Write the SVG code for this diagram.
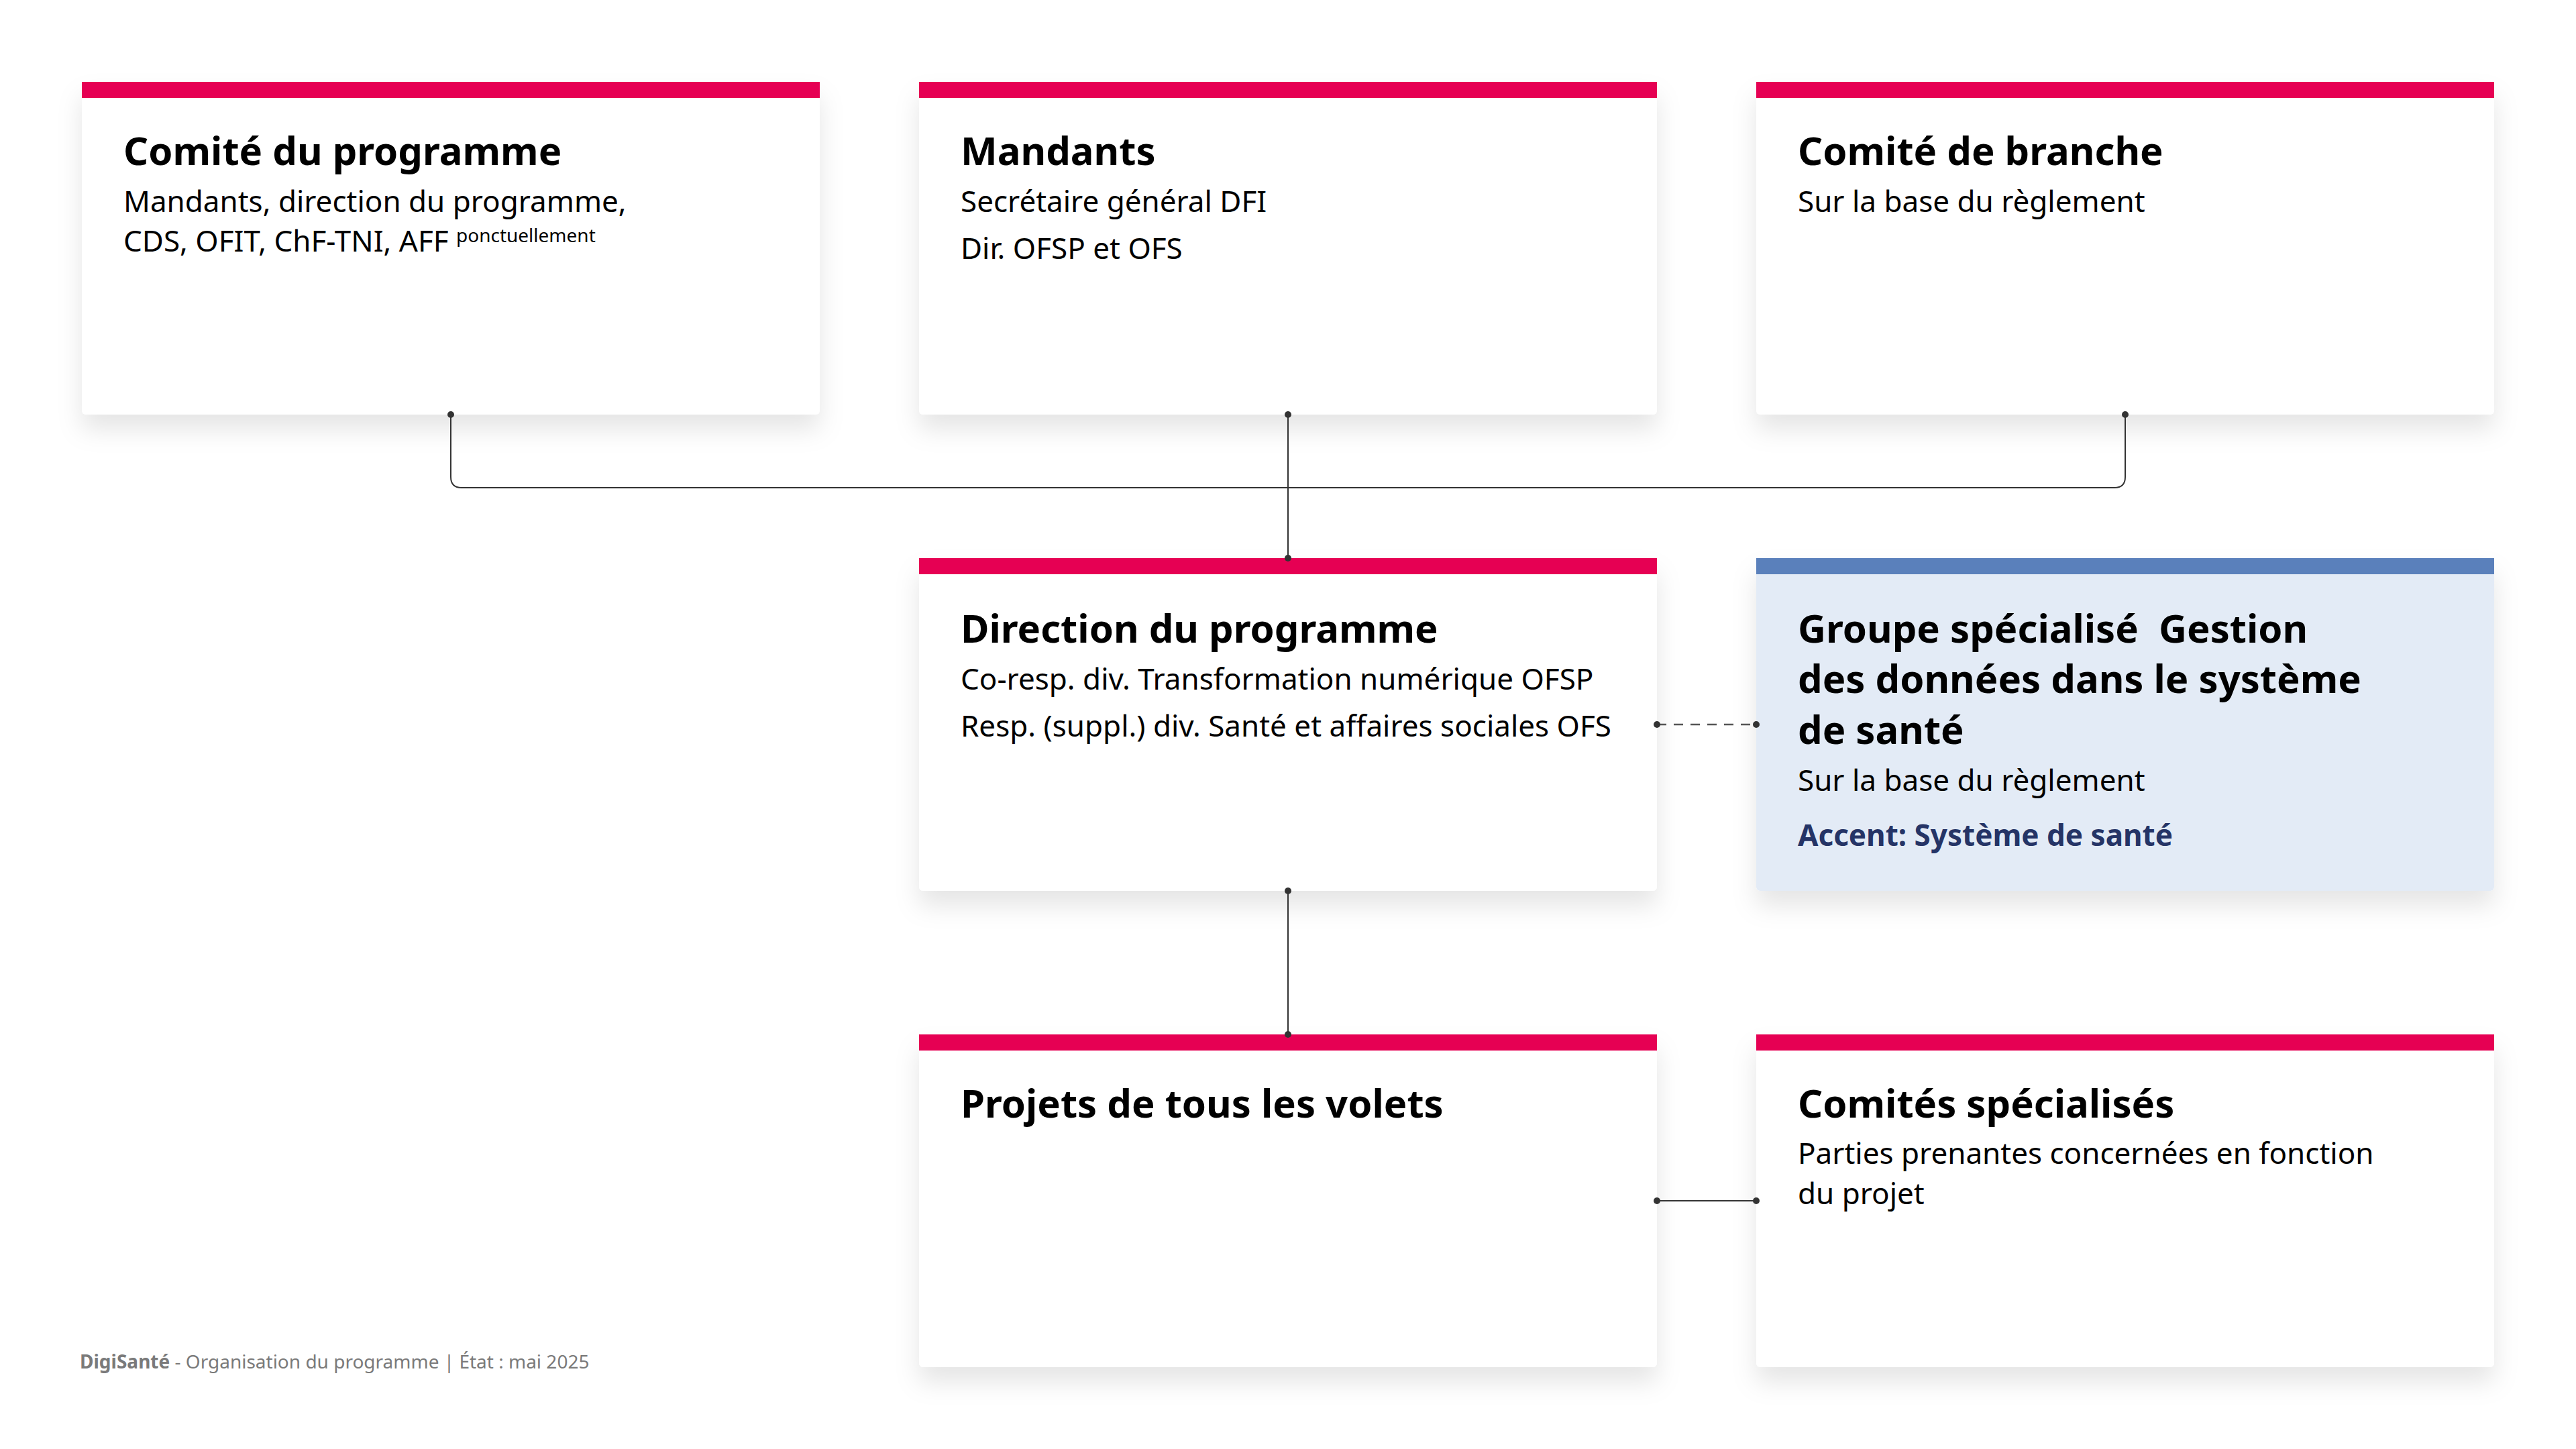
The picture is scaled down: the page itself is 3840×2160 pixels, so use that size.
<svg xmlns="http://www.w3.org/2000/svg" width="3840" height="2160" viewBox="0 0 3840 2160">
<defs>
<filter id="sh" x="-10%" y="-10%" width="120%" height="130%">
<feDropShadow dx="0" dy="22" stdDeviation="18" flood-color="#000" flood-opacity="0.10"/>
</filter>
<style>
.box{fill:#ffffff;filter:url(#sh)}
.boxb{fill:#E3EBF6;filter:url(#sh)}
.bar{fill:#E60053}
.barb{fill:#5A80BB}
.t{font-family:"Noto Sans","Open Sans","DejaVu Sans",sans-serif;font-weight:700;font-size:58px;fill:#000}
.s{font-family:"Noto Sans","Open Sans","DejaVu Sans",sans-serif;font-size:44px;fill:#000}
.sup{font-family:"Noto Sans","Open Sans","DejaVu Sans",sans-serif;font-size:28px;fill:#000}
.acc{font-family:"Noto Sans","Open Sans","DejaVu Sans",sans-serif;font-weight:700;font-size:44px;fill:#253466}
.ft{font-family:"Noto Sans","Open Sans","DejaVu Sans",sans-serif;font-size:28px;fill:#7a7a7a}
.ln{fill:none;stroke:#333;stroke-width:2}
.dl{fill:none;stroke:#555;stroke-width:2.5;stroke-dasharray:14 11}
.dot{fill:#333}
</style>
</defs>
<rect width="3840" height="2160" fill="#ffffff"/>

<g id="comite-programme">
<rect class="box" x="122" y="122" width="1100" height="496" rx="6"/>
<rect class="bar" x="122" y="122" width="1100" height="24"/>
<text class="t" x="184" y="246">Comité du programme</text>
<text class="s" x="184" y="316">Mandants, direction du programme,</text>
<text class="s" x="184" y="375">CDS, OFIT, ChF-TNI, AFF <tspan class="sup" dy="-14">ponctuellement</tspan></text>
</g>

<g id="mandants">
<rect class="box" x="1370" y="122" width="1100" height="496" rx="6"/>
<rect class="bar" x="1370" y="122" width="1100" height="24"/>
<text class="t" x="1432" y="246">Mandants</text>
<text class="s" x="1432" y="316">Secrétaire général DFI</text>
<text class="s" x="1432" y="386">Dir. OFSP et OFS</text>
</g>

<g id="comite-branche">
<rect class="box" x="2618" y="122" width="1100" height="496" rx="6"/>
<rect class="bar" x="2618" y="122" width="1100" height="24"/>
<text class="t" x="2680" y="246">Comité de branche</text>
<text class="s" x="2680" y="316">Sur la base du règlement</text>
</g>

<g id="direction">
<rect class="box" x="1370" y="832" width="1100" height="496" rx="6"/>
<rect class="bar" x="1370" y="832" width="1100" height="24"/>
<text class="t" x="1432" y="958">Direction du programme</text>
<text class="s" x="1432" y="1028">Co-resp. div. Transformation numérique OFSP</text>
<text class="s" x="1432" y="1098">Resp. (suppl.) div. Santé et affaires sociales OFS</text>
</g>

<g id="groupe-specialise">
<rect class="boxb" x="2618" y="832" width="1100" height="496" rx="6"/>
<rect class="barb" x="2618" y="832" width="1100" height="24"/>
<text class="t" x="2680" y="958" xml:space="preserve">Groupe spécialisé  Gestion</text>
<text class="t" x="2680" y="1033">des données dans le système</text>
<text class="t" x="2680" y="1109">de santé</text>
<text class="s" x="2680" y="1179">Sur la base du règlement</text>
<text class="acc" x="2680" y="1261">Accent: Système de santé</text>
</g>

<g id="projets">
<rect class="box" x="1370" y="1542" width="1100" height="496" rx="6"/>
<rect class="bar" x="1370" y="1542" width="1100" height="24"/>
<text class="t" x="1432" y="1666">Projets de tous les volets</text>
</g>

<g id="comites-specialises">
<rect class="box" x="2618" y="1542" width="1100" height="496" rx="6"/>
<rect class="bar" x="2618" y="1542" width="1100" height="24"/>
<text class="t" x="2680" y="1666">Comités spécialisés</text>
<text class="s" x="2680" y="1735">Parties prenantes concernées en fonction</text>
<text class="s" x="2680" y="1795">du projet</text>
</g>

<g id="connectors">
<path class="ln" d="M672 618 V711 Q672 727 688 727 H3152 Q3168 727 3168 711 V618"/>
<path class="ln" d="M1920 618 V832"/>
<path class="dl" d="M2470 1080 H2618"/>
<path class="ln" d="M1920 1328 V1542"/>
<path class="ln" d="M2470 1790 H2618"/>
<circle class="dot" cx="672" cy="618" r="5"/>
<circle class="dot" cx="1920" cy="618" r="5"/>
<circle class="dot" cx="3168" cy="618" r="5"/>
<circle class="dot" cx="1920" cy="832" r="5"/>
<circle class="dot" cx="2470" cy="1080" r="5"/>
<circle class="dot" cx="2618" cy="1080" r="5"/>
<circle class="dot" cx="1920" cy="1328" r="5"/>
<circle class="dot" cx="1920" cy="1542" r="5"/>
<circle class="dot" cx="2470" cy="1790" r="5"/>
<circle class="dot" cx="2618" cy="1790" r="5"/>
</g>

<g id="footer">
<text class="ft" x="119" y="2040"><tspan font-weight="700">DigiSanté</tspan> - Organisation du programme | État : mai 2025</text>
</g>
</svg>
